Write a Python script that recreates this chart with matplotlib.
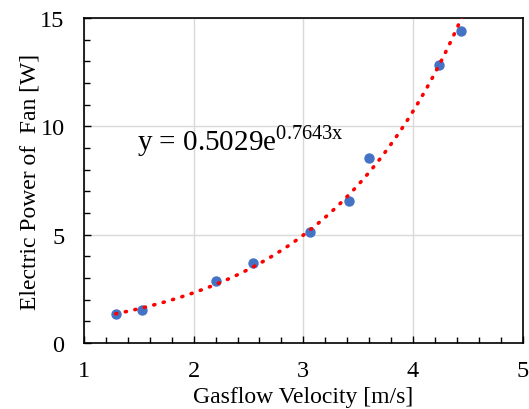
import numpy as np
import matplotlib
matplotlib.use('Agg')
import matplotlib.pyplot as plt
from matplotlib.ticker import MultipleLocator

velocity = [1.29, 1.53, 2.20, 2.54, 3.06, 3.42, 3.60, 4.24, 4.44]
power = [1.32, 1.52, 2.85, 3.69, 5.11, 6.55, 8.55, 12.81, 14.41]

# exponential trendline coefficients shown on the chart
a_coef = 0.5029
b_coef = 0.7643

plt.rcParams['font.family'] = ['Liberation Serif', 'DejaVu Serif']
plt.rcParams['mathtext.fontset'] = 'custom'
plt.rcParams['mathtext.rm'] = 'Liberation Serif'

fig = plt.figure(figsize=(5.29, 4.10), dpi=100)
ax = fig.add_axes([84 / 529, 1 - 344 / 410, (522.7 - 84) / 529, (344 - 19) / 410])

xs = np.linspace(min(velocity), 5, 400)
ax.plot(xs, a_coef * np.exp(b_coef * xs), color='red', lw=2.6,
        linestyle=(0, (0.3, 2.4)), dash_capstyle='round', zorder=3)
ax.scatter(velocity, power, s=42, color='#4472C4', zorder=2)

ax.set_xlim(1, 5)
ax.set_ylim(0, 15)
ax.xaxis.set_major_locator(MultipleLocator(1))
ax.xaxis.set_minor_locator(MultipleLocator(0.2))
ax.yaxis.set_major_locator(MultipleLocator(5))
ax.yaxis.set_minor_locator(MultipleLocator(1))
ax.tick_params(which='both', direction='in', labelsize=17.5, width=1)
ax.tick_params(which='major', length=5)
ax.tick_params(which='minor', length=4)
ax.tick_params(axis='x', pad=12)
ax.tick_params(axis='y', pad=14)
ax.grid(True, which='major', color='#d9d9d9', lw=1)
ax.set_axisbelow(True)
for s in ax.spines.values():
    s.set_linewidth(1.2)

ax.set_xlabel('Gasflow Velocity [m/s]', fontsize=17, labelpad=4)
ax.set_ylabel('Electric Power of  Fan [W]', fontsize=17, labelpad=0)

ax.text(1.48, 8.95, r'y = 0.5029e$^{\mathregular{0.7643x}}$', fontsize=21)

fig.savefig('out.png', dpi=100)
